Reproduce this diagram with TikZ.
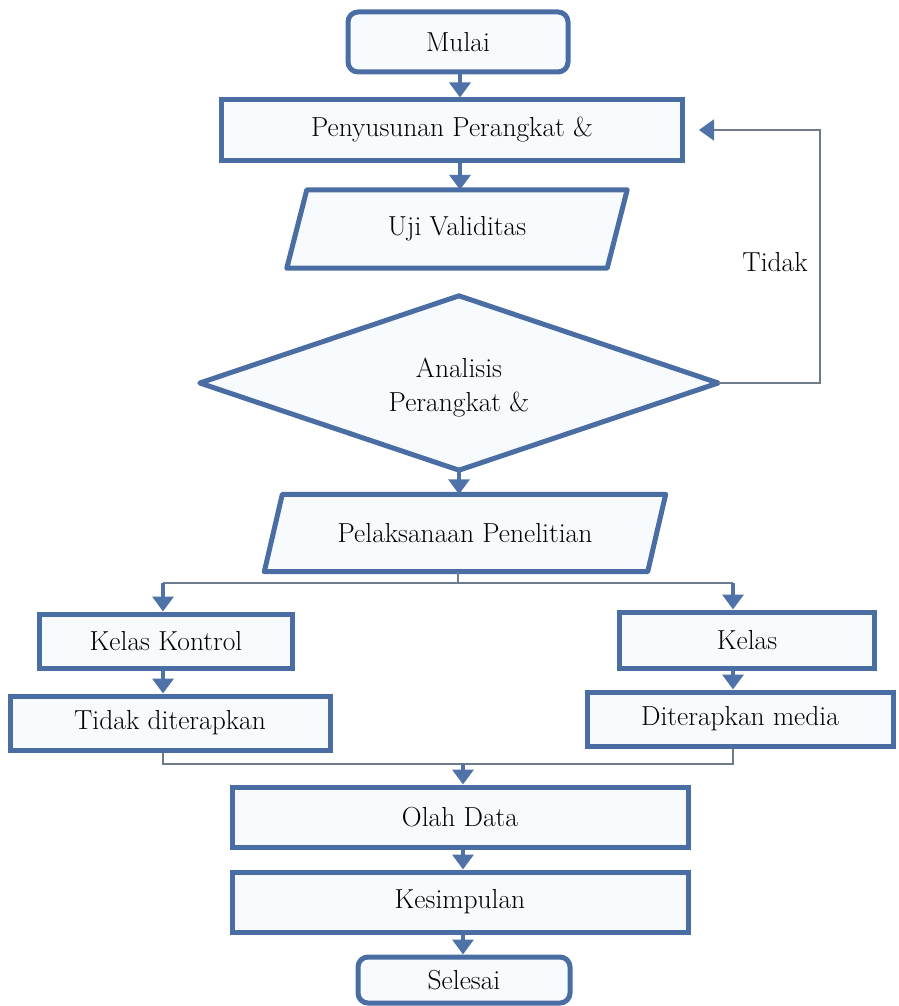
\documentclass[tikz,border=0pt]{standalone}
\usetikzlibrary{arrows.meta,shapes.geometric,backgrounds}
\definecolor{bord}{HTML}{4A6EA3}
\definecolor{fillc}{HTML}{F8FBFE}
\definecolor{conn}{HTML}{6E7B8C}
\definecolor{arr}{HTML}{4F73A8}
\begin{document}
\begin{tikzpicture}[x=1pt,y=-1pt,
  every node/.style={font=\fontsize{27.5}{32}\selectfont, text=black},
  box/.style={draw=bord, fill=fillc, line width=5pt, inner sep=0pt},
  rbox/.style={box, rounded corners=10pt},
  ghost/.style={inner sep=0pt, align=center},
  pshape/.style={draw=bord, fill=fillc, line width=5pt, line join=round},
  flow/.style={draw=arr, line width=3.5pt, -{Triangle[length=15pt,width=21pt]}},
  thinline/.style={draw=conn, line width=2pt},
  thinarrow/.style={thinline, -{Triangle[length=15pt,width=21pt,color=arr,fill=arr]}}]
\useasboundingbox (0,0) rectangle (898,1006);

% nodes
\node[rbox, minimum width=220pt, minimum height=60pt] (mulai) at (458,42) {Mulai};
\node[box, minimum width=461pt, minimum height=60pt] (susun) at (452,130) {Penyusunan Perangkat \&};
\node[ghost, minimum width=320pt, minimum height=78pt] (uji) at (457,229) {Uji Validitas};
\node[ghost, minimum width=518pt, minimum height=174pt] (dia) at (459,383) {};
\node[ghost] (diatext) at (459,388) {Analisis\\[2pt]Perangkat \&};
\node[ghost, minimum width=383pt, minimum height=77pt] (pel) at (465,533) {Pelaksanaan Penelitian};
\node[box, minimum width=253pt, minimum height=54pt] (kk) at (166,641) {Kelas Kontrol};
\node[box, minimum width=320pt, minimum height=54pt] (td) at (170,723) {Tidak diterapkan};
\node[box, minimum width=255pt, minimum height=56pt] (ke) at (747,640) {Kelas};
\node[box, minimum width=306pt, minimum height=54pt] (dm) at (740,719) {Diterapkan media};
\node[box, minimum width=456pt, minimum height=60pt] (olah) at (460,817) {Olah Data};
\node[box, minimum width=456pt, minimum height=60pt] (kes) at (460,902) {Kesimpulan};
\node[rbox, minimum width=212pt, minimum height=46pt] (sel) at (464,980) {Selesai};
\node (tidak) at (775,262) {Tidak};

% shapes drawn behind text
\begin{scope}[on background layer]
\draw[pshape] ([xshift=10pt]uji.north west) -- ([xshift=10pt]uji.north east)
  -- ([xshift=-10pt]uji.south east) -- ([xshift=-10pt]uji.south west) -- cycle;
\draw[pshape] (dia.north) -- (dia.east) -- (dia.south) -- (dia.west) -- cycle;
\draw[pshape] ([xshift=9pt]pel.north west) -- ([xshift=9pt]pel.north east)
  -- ([xshift=-9pt]pel.south east) -- ([xshift=-9pt]pel.south west) -- cycle;
\end{scope}

% coordinates
\coordinate (ax) at (460,0);
\coordinate (fb) at (820,130);
\coordinate (sp) at (458,583);
\coordinate (spl) at (163,583);
\coordinate (spr) at (733,583);
\coordinate (ml) at (163,764);
\coordinate (mr) at (733,764);
\coordinate (mm) at (463,764);

% connectors
\draw[flow] (ax |- mulai.south) -- (ax |- susun.north);
\draw[flow] (ax |- susun.south) -- (ax |- uji.north);
\draw[flow] (dia.south) -- (dia.south |- pel.north);
\draw[thinarrow, shorten >=14pt] (dia.east) -- (dia.east -| fb) -- (fb) -- (susun.east);

\draw[thinline] (sp |- pel.south) -- (sp);
\draw[thinline] (spl) -- (spr);
\draw[flow] (spl) -- (spl |- kk.north);
\draw[flow] (spr) -- (spr |- ke.north);
\draw[flow] (spl |- kk.south) -- (spl |- td.north);
\draw[flow] (spr |- ke.south) -- (spr |- dm.north);

\draw[thinline] (ml |- td.south) -- (ml) -- (mr) -- (mr |- dm.south);
\draw[flow] (mm) -- (mm |- olah.north);
\draw[flow] (mm |- olah.south) -- (mm |- kes.north);
\draw[flow] (mm |- kes.south) -- (mm |- sel.north);
\end{tikzpicture}
\end{document}
